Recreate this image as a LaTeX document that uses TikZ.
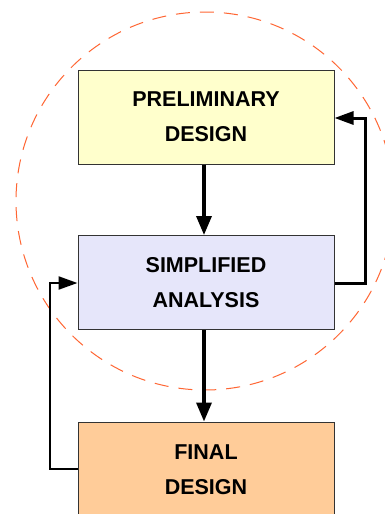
\documentclass[tikz,border=0pt]{standalone}
\usepackage{fontspec}
\setmainfont{Liberation Sans}
\usetikzlibrary{arrows.meta}
\definecolor{prelimfill}{HTML}{FFFFCC}
\definecolor{simpfill}{HTML}{E6E6FA}
\definecolor{finalfill}{HTML}{FFCC99}
\definecolor{circcol}{HTML}{FF6633}
\definecolor{boxline}{HTML}{333333}
\begin{document}
\begin{tikzpicture}[x=1pt,y=-1pt,
  box/.style={draw=boxline,line width=1pt,minimum width=256pt,minimum height=94pt,
    align=center,inner sep=0pt,font=\fontsize{21.5pt}{35pt}\selectfont\bfseries},
  mainarrow/.style={line width=3.4pt,-{Triangle[length=19pt,width=15pt]}},
  fbarrow/.style={line width=3pt,-{Triangle[length=19pt,width=13pt]}},
  circ/.style={draw=circcol,line width=1pt,dash pattern=on 14pt off 10pt}]
\useasboundingbox (0,0) rectangle (385,514);
\clip (0,0) rectangle (385,514);
\fill[white] (0,0) rectangle (385,514);
\draw[circ] (205,201) circle[radius=189pt];
\node[box,fill=prelimfill] (pre) at (206,117) {PRELIMINARY\\DESIGN};
\node[box,fill=simpfill] (sim) at (206,282.5) {SIMPLIFIED\\ANALYSIS};
\node[box,fill=finalfill,minimum height=96pt] (fin) at (206,470) {FINAL\\DESIGN};
\coordinate (r1) at (365,283);
\coordinate (r2) at (365,118);
\coordinate (l1) at (50,469);
\coordinate (l2) at (50,283);
\draw[mainarrow] ([xshift=-2pt]pre.south) -- ([xshift=-2pt]sim.north);
\draw[mainarrow] ([xshift=-2pt]sim.south) -- ([xshift=-2pt]fin.north);
\draw[fbarrow] (sim.east |- r1) -- (r1) -- (r2) -- (pre.east |- r2);
\draw[fbarrow,line width=2.3pt] (fin.west |- l1) -- (l1) -- (l2) -- (sim.west |- l2);
\end{tikzpicture}
\end{document}
